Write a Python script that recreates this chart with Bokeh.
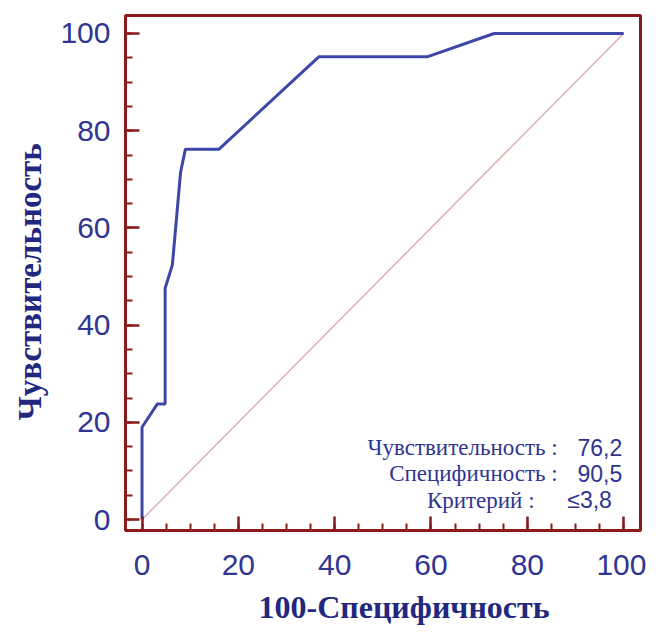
from bokeh.plotting import figure
from bokeh.models import SingleIntervalTicker, Range1d, Label, Title
from bokeh.embed import file_html
from bokeh.resources import INLINE

# ROC curve (100-Specificity, Sensitivity)
fpr = [0, 0, 3.2, 4.8, 4.8, 6.3, 8.0, 9.0, 16.0, 36.7, 59.2, 73.1, 100]
tpr = [0, 19.0, 23.8, 23.8, 47.6, 52.4, 71.4, 76.2, 76.2, 95.2, 95.2, 100, 100]
diag_x = [0, 100]
diag_y = [0, 100]

stat_names = ["Чувствительность :", "Специфичность :", "Критерий :"]
stat_values = ["76,2", "90,5", "≤3,8"]

x_title = "100-Специфичность"
y_title = "Чувствительность"

FRAME = "#8b1a1a"
NAVY = "#2f3590"
TITLE = "#23287f"
CURVE = "#3d47a8"

p = figure(width=646, height=634, output_backend="svg", toolbar_location=None,
           x_range=Range1d(-3.43, 103.5), y_range=Range1d(-2.25, 103.7),
           min_border_left=125, min_border_top=15, min_border_right=6,
           min_border_bottom=102)
p.background_fill_color = "white"
p.border_fill_color = "white"
p.grid.visible = False
p.outline_line_color = FRAME
p.outline_line_width = 3

for ax in (p.xaxis[0], p.yaxis[0]):
    ax.ticker = SingleIntervalTicker(interval=20, num_minor_ticks=4)
    ax.axis_line_color = FRAME
    ax.axis_line_width = 3
    ax.major_tick_in = 14
    ax.major_tick_out = 0
    ax.major_tick_line_color = FRAME
    ax.major_tick_line_width = 2.5
    ax.minor_tick_in = 7
    ax.minor_tick_out = 0
    ax.minor_tick_line_color = FRAME
    ax.minor_tick_line_width = 2
    ax.major_label_text_font = "Liberation Sans"
    ax.major_label_text_font_size = "30px"
    ax.major_label_text_color = NAVY

p.xaxis.major_label_standoff = 24
p.yaxis.major_label_standoff = 15

# axis titles placed in the side panels, positioned like the reference
p.add_layout(Title(text=x_title, align="left", offset=133, standoff=19,
                   text_font="Liberation Serif", text_font_style="bold",
                   text_font_size="32px", text_color=TITLE), "below")
p.add_layout(Title(text=y_title, align="left", offset=110, standoff=19,
                   text_font="Liberation Serif", text_font_style="bold",
                   text_font_size="33px", text_color=TITLE), "left")

p.line(diag_x, diag_y, line_color="#dcb0b0", line_width=1.5)
p.line(fpr, tpr, line_color=CURVE, line_width=3)

name_x = [86.3, 86.3, 81.5]
val_x = [90.4, 90.4, 88.3]
row_y = [14.9, 9.4, 4.0]
for nm, vl, nx, vx, ry in zip(stat_names, stat_values, name_x, val_x, row_y):
    p.add_layout(Label(x=nx, y=ry, text=nm, text_align="right",
                       text_baseline="alphabetic", text_font="Liberation Serif",
                       text_font_size="23px", text_color=NAVY))
    p.add_layout(Label(x=vx, y=ry, text=vl, text_align="left",
                       text_baseline="alphabetic", text_font="Liberation Sans",
                       text_font_size="23px", text_color=NAVY))

open("out.html", "w").write(file_html(p, INLINE))
